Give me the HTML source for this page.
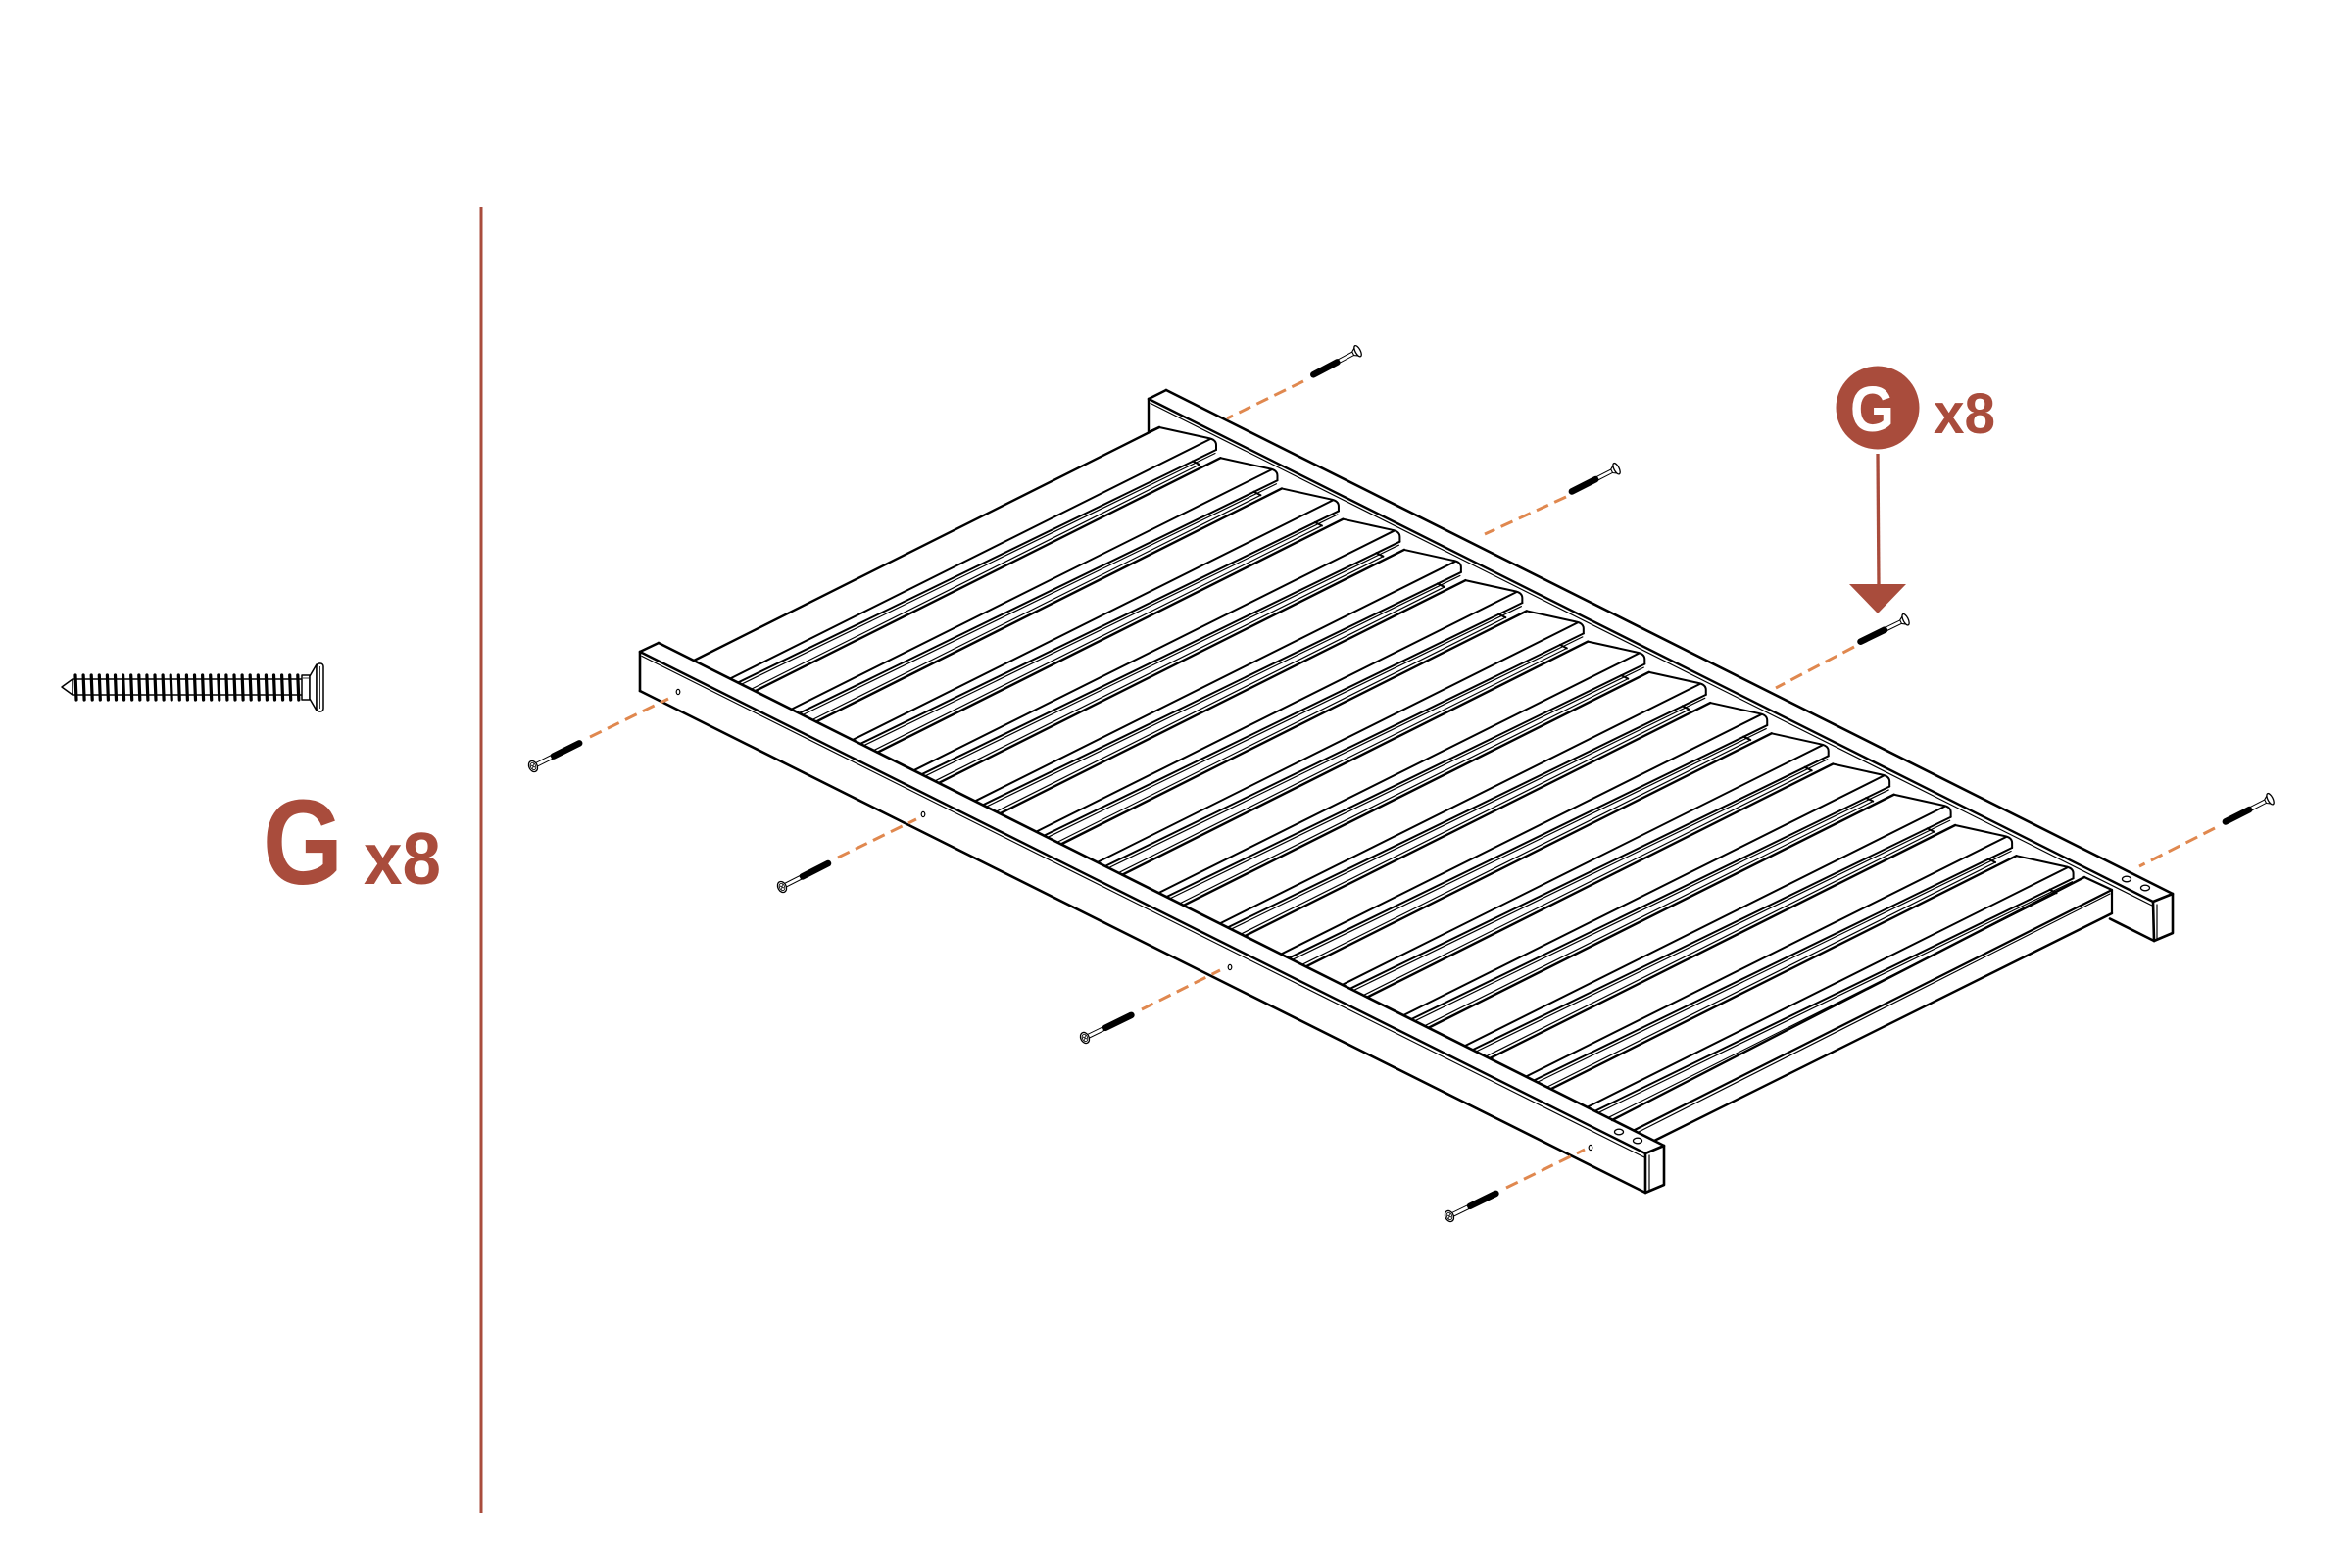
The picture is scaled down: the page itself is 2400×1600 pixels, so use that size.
<!DOCTYPE html>
<html>
<head>
<meta charset="utf-8">
<style>
  html,body{margin:0;padding:0;background:#fff;}
  svg{display:block;}
  text{font-family:"Liberation Sans", Arial, sans-serif;font-weight:bold;}
</style>
</head>
<body>
<svg width="2400" height="1600" viewBox="0 0 2400 1600" xmlns="http://www.w3.org/2000/svg">
  <rect width="2400" height="1600" fill="#fff"/>
  <defs>
    <g id="slat" fill="none" stroke="#000" stroke-linecap="round" stroke-linejoin="round">
      <line x1="708" y1="674" x2="1183" y2="436" stroke-width="2.4"/>
      <line x1="745" y1="692.5" x2="1235" y2="448" stroke-width="2"/>
      <line x1="753" y1="696.5" x2="1241" y2="459" stroke-width="2"/>
      <line x1="756.5" y1="698.25" x2="1240" y2="462.5" stroke-width="1.2"/>
      <path d="M1183,436 L1233,447 Q1241,448.5 1241,454 L1241,459" stroke-width="2"/>
      <line x1="1217" y1="470.5" x2="1224" y2="474" stroke-width="2"/>
      <line x1="1224" y1="474" x2="766.5" y2="703.25" stroke-width="1.2"/>
    </g>
    <g id="fscrew">
      <rect x="20" y="-3.3" width="36" height="6.6" rx="3.3" fill="#000"/>
      <rect x="4" y="-2" width="17" height="4" fill="#fff" stroke="#000" stroke-width="1"/>
      <ellipse cx="0" cy="0" rx="4.2" ry="5.8" fill="#fff" stroke="#000" stroke-width="1.3"/>
      <ellipse cx="0" cy="0" rx="2.6" ry="3.8" fill="none" stroke="#000" stroke-width="0.8"/>
      <line x1="-1.5" y1="-2" x2="1.5" y2="2" stroke="#000" stroke-width="0.8"/>
      <line x1="-1.5" y1="2" x2="1.5" y2="-2" stroke="#000" stroke-width="0.8"/>
    </g>
    <g id="bscrew">
      <rect x="21" y="-3.3" width="34" height="6.6" rx="3.3" fill="#000"/>
      <rect x="5" y="-1.9" width="17" height="3.8" fill="#fff" stroke="#000" stroke-width="1"/>
      <path d="M6,-2 L1.5,-5 L1.5,5 L6,2 Z" fill="#fff" stroke="#000" stroke-width="1.1"/>
      <ellipse cx="0.5" cy="0" rx="2.6" ry="6.2" fill="#fff" stroke="#000" stroke-width="1.3"/>
    </g>
  </defs>

  <!-- left panel: big screw -->
  <g stroke="#000" fill="#fff" stroke-width="1.5" stroke-linejoin="round">
    <polygon points="63,701 74,693 74,709"/>
    <line x1="74" y1="693" x2="308" y2="693"/>
    <line x1="74" y1="709" x2="308" y2="709"/>
    <g stroke-width="3.2" stroke-linecap="round" fill="none">
      <line x1="77" y1="689" x2="78" y2="714"/>
      <line x1="85.1" y1="689" x2="86.1" y2="714"/>
      <line x1="93.2" y1="689" x2="94.2" y2="714"/>
      <line x1="101.3" y1="689" x2="102.3" y2="714"/>
      <line x1="109.4" y1="689" x2="110.4" y2="714"/>
      <line x1="117.5" y1="689" x2="118.5" y2="714"/>
      <line x1="125.6" y1="689" x2="126.6" y2="714"/>
      <line x1="133.7" y1="689" x2="134.7" y2="714"/>
      <line x1="141.8" y1="689" x2="142.8" y2="714"/>
      <line x1="149.9" y1="689" x2="150.9" y2="714"/>
      <line x1="158" y1="689" x2="159" y2="714"/>
      <line x1="166.1" y1="689" x2="167.1" y2="714"/>
      <line x1="174.2" y1="689" x2="175.2" y2="714"/>
      <line x1="182.3" y1="689" x2="183.3" y2="714"/>
      <line x1="190.4" y1="689" x2="191.4" y2="714"/>
      <line x1="198.5" y1="689" x2="199.5" y2="714"/>
      <line x1="206.6" y1="689" x2="207.6" y2="714"/>
      <line x1="214.7" y1="689" x2="215.7" y2="714"/>
      <line x1="222.8" y1="689" x2="223.8" y2="714"/>
      <line x1="230.9" y1="689" x2="231.9" y2="714"/>
      <line x1="239" y1="689" x2="240" y2="714"/>
      <line x1="247.1" y1="689" x2="248.1" y2="714"/>
      <line x1="255.2" y1="689" x2="256.2" y2="714"/>
      <line x1="263.3" y1="689" x2="264.3" y2="714"/>
      <line x1="271.4" y1="689" x2="272.4" y2="714"/>
      <line x1="279.5" y1="689" x2="280.5" y2="714"/>
      <line x1="287.6" y1="689" x2="288.6" y2="714"/>
      <line x1="295.7" y1="689" x2="296.7" y2="714"/>
      <line x1="303.8" y1="689" x2="304.8" y2="714"/>
    </g>
    <rect x="308" y="689" width="8" height="25"/>
    <line x1="309" y1="692" x2="315" y2="692" stroke-width="0.8"/>
    <polygon points="316,690 323,678 323,725 316,713"/>
    <rect x="323" y="677" width="7" height="49" rx="3"/>
    <line x1="326.5" y1="680" x2="326.5" y2="723" stroke-width="0.8"/>
  </g>

  <text x="268" y="902" font-size="123" fill="#a94c3c" textLength="82" lengthAdjust="spacingAndGlyphs">G</text>
  <text x="371" y="902" font-size="75" fill="#a94c3c" textLength="79" lengthAdjust="spacingAndGlyphs">x8</text>

  <!-- divider -->
  <line x1="491" y1="211" x2="491" y2="1544" stroke="#a94c3c" stroke-width="3"/>

  <!-- slats -->
  <use href="#slat"/>
  <use href="#slat" transform="translate(62.47,31.23)"/>
  <use href="#slat" transform="translate(124.94,62.46)"/>
  <use href="#slat" transform="translate(187.41,93.69)"/>
  <use href="#slat" transform="translate(249.88,124.92)"/>
  <use href="#slat" transform="translate(312.35,156.15)"/>
  <use href="#slat" transform="translate(374.82,187.38)"/>
  <use href="#slat" transform="translate(437.29,218.61)"/>
  <use href="#slat" transform="translate(499.76,249.84)"/>
  <use href="#slat" transform="translate(562.23,281.07)"/>
  <use href="#slat" transform="translate(624.7,312.3)"/>
  <use href="#slat" transform="translate(687.17,343.53)"/>
  <use href="#slat" transform="translate(749.64,374.76)"/>
  <use href="#slat" transform="translate(812.11,405.99)"/>
  <use href="#slat" transform="translate(874.58,437.22)"/>

  <!-- end crosspiece -->
  <g fill="none" stroke="#000" stroke-linecap="round" stroke-linejoin="round">
    <line x1="1645" y1="1143" x2="2127" y2="895" stroke-width="2.4"/>
    <line x1="1667" y1="1153.5" x2="2155" y2="908" stroke-width="2.2"/>
    <line x1="1671" y1="1155.5" x2="2153" y2="912" stroke-width="1.2"/>
    <line x1="1688" y1="1164" x2="2155" y2="932" stroke-width="2.4"/>
    <polyline points="2127,895 2155,908 2155,932" stroke-width="2.2"/>
  </g>

  <!-- back rail -->
  <g fill="none" stroke="#000" stroke-linecap="round" stroke-linejoin="round">
    <line x1="1190" y1="398" x2="2217" y2="912" stroke-width="2.6"/>
    <line x1="1172" y1="407" x2="2197" y2="920" stroke-width="2.4"/>
    <line x1="1174" y1="411.5" x2="2197" y2="924.5" stroke-width="1.2"/>
    <line x1="1172" y1="407" x2="1190" y2="398" stroke-width="2.4"/>
    <polyline points="1172,407 1172,441 1183,436" stroke-width="2.4"/>
    <polygon points="2197,920 2217,912 2217,952 2198,960" fill="#fff" stroke-width="2.6"/>
    <line x1="2201" y1="923" x2="2201" y2="958" stroke-width="1.2"/>
    <line x1="2198" y1="960" x2="2153" y2="937.5" stroke-width="2.6"/>
    <ellipse cx="2170" cy="897" rx="4.5" ry="2.8" stroke-width="1.3"/>
    <ellipse cx="2189" cy="906" rx="4.5" ry="2.8" stroke-width="1.3"/>
  </g>

  <!-- front rail -->
  <g fill="none" stroke="#000" stroke-linecap="round" stroke-linejoin="round">
    <line x1="672" y1="656" x2="1698" y2="1169" stroke-width="2.6"/>
    <line x1="653" y1="665" x2="1679" y2="1177" stroke-width="2.4"/>
    <line x1="655" y1="669.5" x2="1679" y2="1181.5" stroke-width="1.2"/>
    <line x1="653" y1="665" x2="672" y2="656" stroke-width="2.4"/>
    <line x1="653" y1="665" x2="653" y2="705" stroke-width="2.6"/>
    <line x1="653" y1="705" x2="1679" y2="1217" stroke-width="2.6"/>
    <polygon points="1679,1177 1698,1169 1698,1209 1679,1217" fill="#fff" stroke-width="2.6"/>
    <line x1="1683" y1="1179" x2="1683" y2="1215" stroke-width="1.2"/>
    <ellipse cx="1652" cy="1155" rx="4.5" ry="2.8" stroke-width="1.3"/>
    <ellipse cx="1671" cy="1164" rx="4.5" ry="2.8" stroke-width="1.3"/>
    <ellipse cx="692" cy="706" rx="1.8" ry="2.6" stroke-width="1.2"/>
    <ellipse cx="942" cy="831" rx="1.8" ry="2.6" stroke-width="1.2"/>
    <ellipse cx="1255" cy="987" rx="1.8" ry="2.6" stroke-width="1.2"/>
    <ellipse cx="1623" cy="1171" rx="1.8" ry="2.6" stroke-width="1.2"/>
  </g>

  <!-- dashed guide lines -->
  <g stroke="#e0884f" stroke-width="3" stroke-dasharray="13 7" fill="none">
    <line x1="602" y1="752" x2="682" y2="713"/>
    <line x1="855" y1="875" x2="935" y2="836"/>
    <line x1="1165" y1="1030" x2="1245" y2="990"/>
    <line x1="1537" y1="1212" x2="1617" y2="1173"/>
    <line x1="1330" y1="389" x2="1252" y2="427"/>
    <line x1="1598" y1="507" x2="1515" y2="545"/>
    <line x1="1892" y1="660" x2="1812" y2="702"/>
    <line x1="2260" y1="845" x2="2183" y2="884"/>
  </g>

  <!-- front screws -->
  <use href="#fscrew" transform="translate(544,782) rotate(-26.6)"/>
  <use href="#fscrew" transform="translate(798,905) rotate(-27)"/>
  <use href="#fscrew" transform="translate(1107,1059) rotate(-26)"/>
  <use href="#fscrew" transform="translate(1479,1241) rotate(-26)"/>

  <!-- back screws -->
  <use href="#bscrew" transform="translate(1386,358) rotate(152)"/>
  <use href="#bscrew" transform="translate(1650,478) rotate(153)"/>
  <use href="#bscrew" transform="translate(1945,632) rotate(154)"/>
  <use href="#bscrew" transform="translate(2317,815) rotate(153)"/>

  <!-- callout -->
  <circle cx="1916" cy="416" r="42.5" fill="#a94c3c"/>
  <text x="1888" y="440" font-size="66" fill="#fff" textLength="45" lengthAdjust="spacingAndGlyphs">G</text>
  <text x="1973" y="442" font-size="58" fill="#a94c3c" textLength="63" lengthAdjust="spacingAndGlyphs">x8</text>
  <line x1="1916" y1="463" x2="1917" y2="598" stroke="#a94c3c" stroke-width="3.3"/>
  <polygon points="1887,596 1945,596 1916,626" fill="#a94c3c"/>
</svg>
</body>
</html>
